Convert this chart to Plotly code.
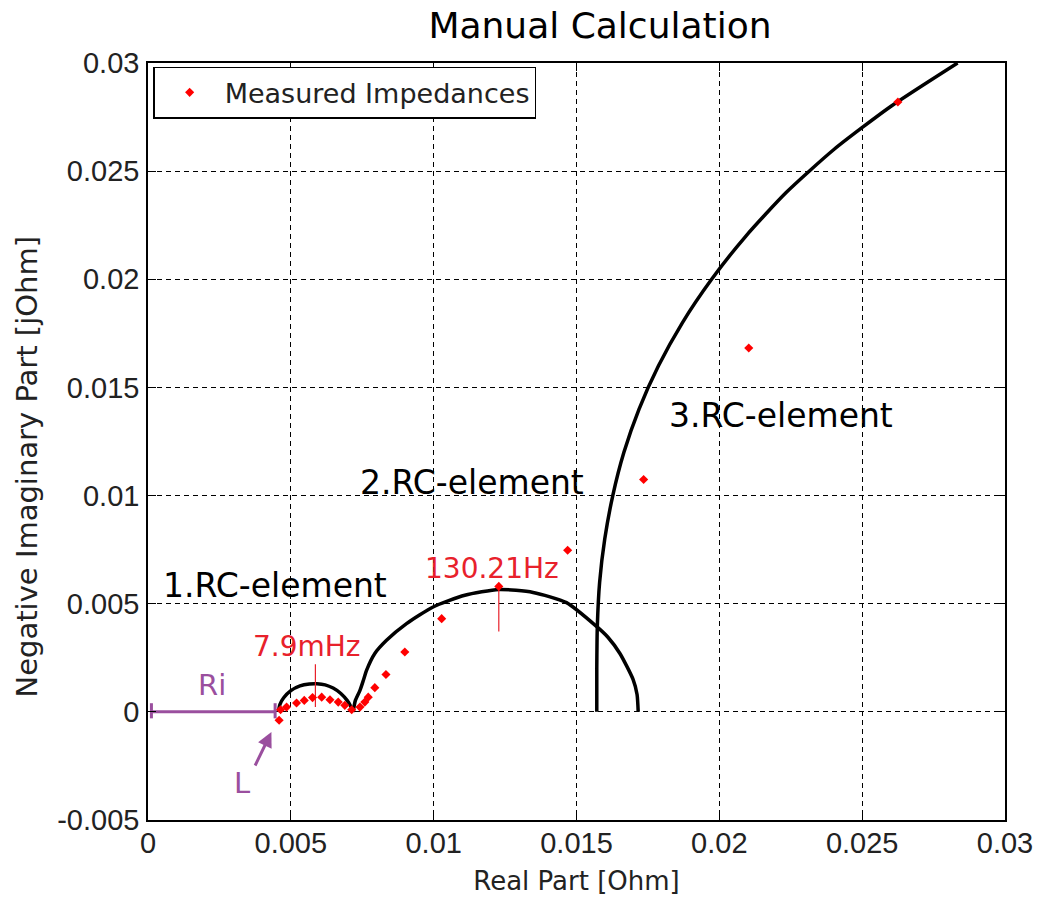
import plotly.graph_objects as go

# ---- data ----
meas_re = [0.00459, 0.00464, 0.00485, 0.00520, 0.00547, 0.00576, 0.00608, 0.00637,
           0.00666, 0.00689, 0.00713, 0.00742, 0.00759, 0.00771, 0.00794, 0.00833,
           0.00899, 0.01028, 0.01469, 0.01735, 0.02103, 0.02625]
meas_im = [-0.00039, 0.00010, 0.00022, 0.00041, 0.00053, 0.00066, 0.00068, 0.00056,
           0.00045, 0.00030, 0.00010, 0.00022, 0.00045, 0.00068, 0.00112, 0.00173,
           0.00277, 0.00431, 0.00747, 0.01074, 0.01682, 0.02820]

rc1_re = [0.00456, 0.00462, 0.00475, 0.00500, 0.00532, 0.00565, 0.00591, 0.00620,
          0.00648, 0.00675, 0.00697, 0.00710, 0.00718]
rc1_im = [0.0, 0.00035, 0.00065, 0.00098, 0.00120, 0.00129, 0.00130, 0.00125,
          0.00110, 0.00085, 0.00053, 0.00025, 0.0]

rc2_re = [0.00718, 0.00726, 0.00742, 0.00754, 0.00765, 0.00794, 0.00835, 0.00905,
          0.00998, 0.01109, 0.01228, 0.01348, 0.01465, 0.01570, 0.01610, 0.01652,
          0.01698, 0.01712, 0.01716]
rc2_im = [0.0, 0.00053, 0.00099, 0.00146, 0.00192, 0.00270, 0.00331, 0.00408,
          0.00485, 0.00539, 0.00566, 0.00552, 0.00505, 0.00395, 0.00345, 0.00270,
          0.00150, 0.00080, 0.0]

rc3_re = [0.01571, 0.01571, 0.01573, 0.01581, 0.01599, 0.01627, 0.01666, 0.01719,
          0.01787, 0.01871, 0.01973, 0.02093, 0.02233, 0.02401, 0.02601, 0.02834]
rc3_im = [0.0, 0.002, 0.004, 0.006, 0.008, 0.010, 0.012, 0.014,
          0.016, 0.018, 0.020, 0.022, 0.024, 0.026, 0.028, 0.030]

ri_re = [0.00012, 0.00445]
ri_im = [0.0, 0.0]
ri_cap = [-0.00030, 0.00040]

f1_re = [0.00586, 0.00586]
f1_im = [0.00022, 0.00220]
f2_re = [0.01228, 0.01228]
f2_im = [0.00372, 0.00580]

x_ticks = [0, 0.005, 0.01, 0.015, 0.02, 0.025, 0.03]
x_ticklabels = ["0", "0.005", "0.01", "0.015", "0.02", "0.025", "0.03"]
y_ticks = [-0.005, 0, 0.005, 0.01, 0.015, 0.02, 0.025, 0.03]
y_ticklabels = ["-0.005", "0", "0.005", "0.01", "0.015", "0.02", "0.025", "0.03"]

PURPLE = "#9A4F9E"
RED_TXT = "#E8212B"
ARIAL = "Liberation Sans, Arial, sans-serif"
DEJAVU = "DejaVu Sans, sans-serif"

fig = go.Figure()

for xs, ys in [(rc1_re, rc1_im), (rc2_re, rc2_im), (rc3_re, rc3_im)]:
    fig.add_trace(go.Scatter(x=xs, y=ys, mode="lines",
                             line=dict(color="black", width=3.5, shape="spline", smoothing=0.6),
                             showlegend=False, hoverinfo="skip"))

# Ri bar with end caps
fig.add_trace(go.Scatter(x=ri_re, y=ri_im, mode="lines", line=dict(color=PURPLE, width=3),
                         showlegend=False, hoverinfo="skip"))
for xc in ri_re:
    fig.add_trace(go.Scatter(x=[xc, xc], y=ri_cap, mode="lines", line=dict(color=PURPLE, width=3),
                             showlegend=False, hoverinfo="skip"))

# frequency markers
fig.add_trace(go.Scatter(x=f1_re, y=f1_im, mode="lines", line=dict(color=RED_TXT, width=1.2),
                         showlegend=False, hoverinfo="skip"))
fig.add_trace(go.Scatter(x=f2_re, y=f2_im, mode="lines", line=dict(color=RED_TXT, width=1.2),
                         showlegend=False, hoverinfo="skip"))
fig.add_trace(go.Scatter(x=[f2_re[1]], y=[f2_im[1]], mode="markers",
                         marker=dict(symbol="diamond", size=7, color="#FF0000"),
                         showlegend=False, hoverinfo="skip"))

fig.add_trace(go.Scatter(x=meas_re, y=meas_im, mode="markers", name="Measured Impedances",
                         marker=dict(symbol="diamond", size=7, color="#FF0000")))

annotations = [
    dict(text="1.RC-element", x=0.00446, y=0.00585, font=dict(size=33, color="black", family=DEJAVU)),
    dict(text="2.RC-element", x=0.01134, y=0.01061, font=dict(size=33, color="black", family=DEJAVU)),
    dict(text="3.RC-element", x=0.02215, y=0.01371, font=dict(size=33, color="black", family=DEJAVU)),
    dict(text="130.21Hz", x=0.01204, y=0.00664, font=dict(size=28, color=RED_TXT, family=DEJAVU)),
    dict(text="7.9mHz", x=0.00555, y=0.00303, font=dict(size=28, color=RED_TXT, family=DEJAVU)),
    dict(text="Ri", x=0.00224, y=0.00125, font=dict(size=29, color=PURPLE, family=DEJAVU)),
    dict(text="L", x=0.00329, y=-0.00331, font=dict(size=29, color=PURPLE, family=DEJAVU)),
]
for a in annotations:
    fig.add_annotation(xref="x", yref="y", showarrow=False, xanchor="center", yanchor="middle", **a)

# arrow pointing at L
fig.add_annotation(xref="x", yref="y", x=0.00432, y=-0.00093, ax=-17, ay=35, text="",
                   showarrow=True, arrowhead=2, arrowsize=1, arrowwidth=3, arrowcolor=PURPLE)

# y-axis title
fig.add_annotation(xref="paper", yref="paper", x=-0.1412, y=0.467, text="Negative Imaginary Part [jOhm]",
                   textangle=-90, showarrow=False, xanchor="center", yanchor="middle",
                   font=dict(size=29, color="#222222", family=DEJAVU))

axis_common = dict(showgrid=True, gridcolor="black", gridwidth=1, griddash="5px,4px",
                   showline=True, linecolor="black", linewidth=1.5, mirror="ticks",
                   ticks="inside", ticklen=8, tickcolor="black", zeroline=False,
                   tickfont=dict(size=29, color="#222222", family=ARIAL))

fig.update_xaxes(range=[0, 0.03], tickvals=x_ticks, ticktext=x_ticklabels,
                 title=dict(text="Real Part [Ohm]", font=dict(size=26, color="#222222", family=DEJAVU), standoff=14),
                 ticklabelstandoff=-4, **axis_common)
fig.update_yaxes(range=[-0.005, 0.03], tickvals=y_ticks, ticktext=y_ticklabels,
                 ticklabelstandoff=1, **axis_common)

fig.update_layout(
    width=1038, height=901,
    margin=dict(l=148, r=33, t=63, b=81, autoexpand=False),
    paper_bgcolor="white", plot_bgcolor="white",
    title=dict(text="Manual Calculation", x=0.578, xanchor="center", y=0.972, yanchor="middle",
               font=dict(size=36, color="black", family=DEJAVU)),
    legend=dict(x=0.006, y=0.995, xanchor="left", yanchor="top", bgcolor="white",
                bordercolor="black", borderwidth=1.5, itemwidth=60,
                font=dict(size=27, color="#222222", family=DEJAVU)),
    showlegend=True,
)

fig.write_html("out.html")
